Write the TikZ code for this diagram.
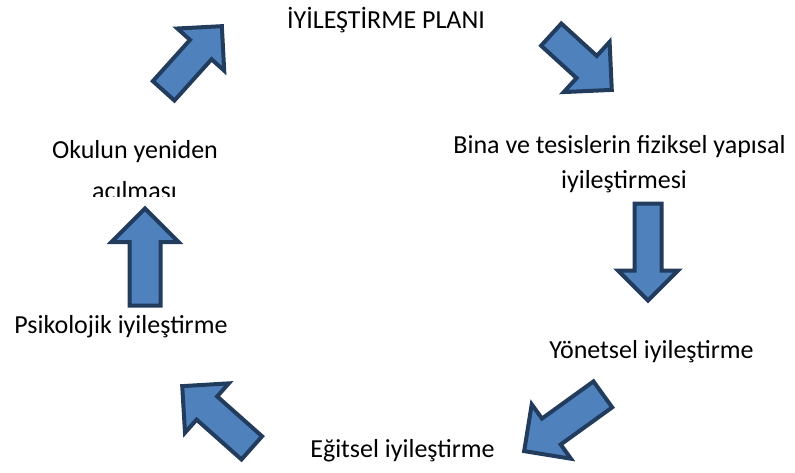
\documentclass[tikz,border=0pt]{standalone}
\usepackage{fontspec}
\setmainfont{Carlito}
\definecolor{arrowfill}{HTML}{4F81BD}
\definecolor{arrowline}{HTML}{223C5E}
\tikzset{
  lbl/.style={anchor=base, inner sep=0pt, font=\fontsize{26}{32}\selectfont},
  barrowstyle/.style={fill=arrowfill, draw=arrowline, line width=4pt, line join=miter},
}
% #1 cx, #2 cy, #3 angle, #4 length, #5 head width, #6 shaft width
\newcommand{\blockarrow}[6]{%
  \begin{scope}[shift={(#1,#2)}, rotate=#3]
    \draw[barrowstyle] ({-#4/2},{-#6/2}) -- ({#4/2-#5/2},{-#6/2}) -- ({#4/2-#5/2},{-#5/2})
      -- ({#4/2},0) -- ({#4/2-#5/2},{#5/2}) -- ({#4/2-#5/2},{#6/2}) -- ({-#4/2},{#6/2}) -- cycle;
  \end{scope}}
\begin{document}
\begin{tikzpicture}[x=1pt, y=-1pt]
  \useasboundingbox (0,0) rectangle (795,472);
  % texts
  \node[lbl] (plan) at (386,28) {İYİLEŞTİRME PLANI};
  \node[lbl] (binaA) at (619.5,153) {Bina ve tesislerin fiziksel yapısal};
  \node[lbl] (binaB) at (624,188) {iyileştirmesi};
  \node[lbl] (yonetsel) at (651.5,358) {Yönetsel iyileştirme};
  \node[lbl] (egitsel) at (402.5,457) {Eğitsel iyileştirme};
  \node[lbl] (psiko) at (121,333) {Psikolojik iyileştirme};
  \node[lbl] (okulA) at (135,158) {Okulun yeniden};
  \begin{scope}
    \clip (0,165) rectangle (300,196);
    \node[lbl] (okulB) at (134.5,199) {acılması};
  \end{scope}
  % arrows
  \blockarrow{192.75}{58.5}{48}{87}{63}{29}
  \blockarrow{581.5}{62.25}{-42.4}{82}{68}{30}
  \blockarrow{648}{252}{-90}{97}{60}{27}
  \blockarrow{563.5}{422.75}{-144.2}{97}{67}{32}
  \blockarrow{217}{417}{138.4}{93}{66}{31}
  \blockarrow{145}{257}{90}{97}{67}{31}
\end{tikzpicture}
\end{document}
